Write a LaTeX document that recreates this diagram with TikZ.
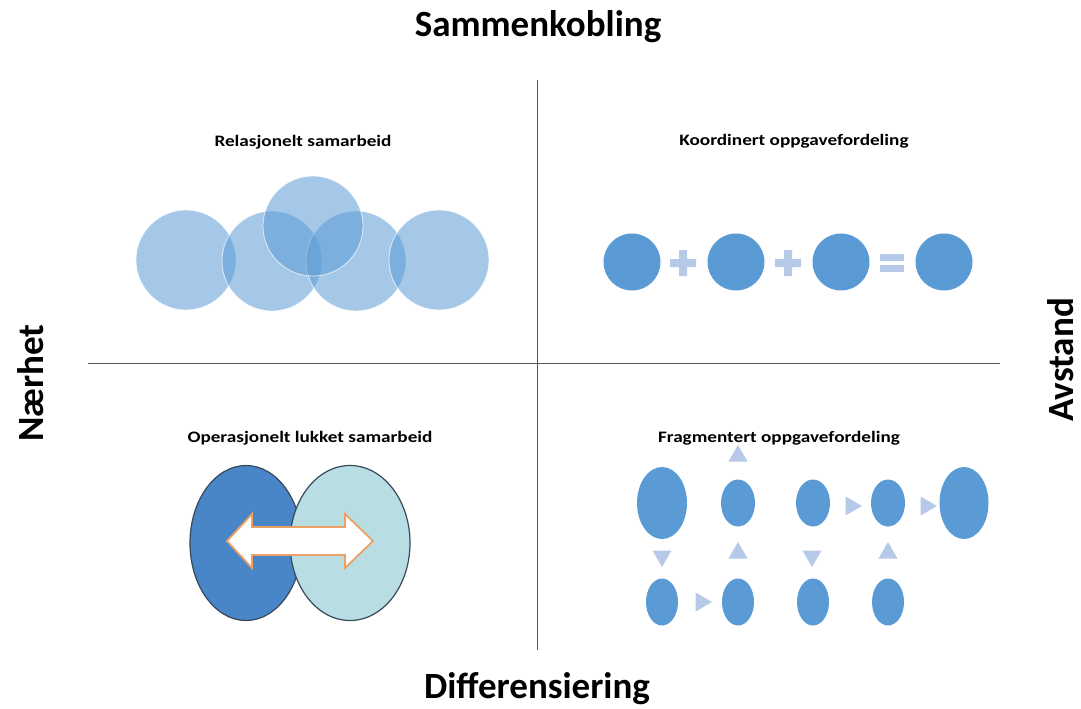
\documentclass[tikz,border=0pt]{standalone}
\usepackage{fontspec}
\setmainfont{Carlito}
\usetikzlibrary{shapes.geometric}

\definecolor{fillblue}{RGB}{91,155,213}
\definecolor{paleblue}{RGB}{182,201,232}
\definecolor{darkblue}{RGB}{72,134,200}
\definecolor{paleteal}{RGB}{184,222,228}
\definecolor{rimgray}{RGB}{55,72,88}
\definecolor{arroworange}{RGB}{238,160,100}
\definecolor{axisgray}{RGB}{85,85,85}

\begin{document}
\begin{tikzpicture}[x=1pt,y=-1pt,
  axislabel/.style={font=\fontsize{37}{40}\selectfont\bfseries,inner sep=0},
  quadlabel/.style={font=\fontsize{16}{18}\selectfont\bfseries,xscale=1.2},
  bubble/.style={circle,fill=fillblue,fill opacity=0.55,draw=white,draw opacity=0.7,line width=0.8,minimum size=100,inner sep=0},
  disc/.style={circle,fill=fillblue,minimum size=57,inner sep=0},
  piece/.style={ellipse,fill=fillblue,inner sep=0},
  tri/.style={regular polygon,regular polygon sides=3,fill=paleblue,minimum size=22,inner sep=0}]
  \useasboundingbox (0,0) rectangle (1081,709);

  % axes
  \draw[axisgray,line width=1] (537,80) -- (537,650);
  \draw[axisgray,line width=1] (88,363) -- (1000,363);
  \node[axislabel] (top) at (538,27) {Sammenkobling};
  \node[axislabel] (bottom) at (537,689) {Differensiering};
  \node[axislabel,rotate=90] (left) at (31,383) {Nærhet};
  \node[axislabel,rotate=90] (right) at (1061,360) {Avstand};

  % quadrant titles
  \node[quadlabel] (q1) at (303,142) {Relasjonelt samarbeid};
  \node[quadlabel] (q2) at (794,141) {Koordinert oppgavefordeling};
  \node[quadlabel] (q3) at (310,438) {Operasjonelt lukket samarbeid};
  \node[quadlabel] (q4) at (779,438) {Fragmentert oppgavefordeling};

  % relasjonelt samarbeid
  \node[bubble] (b1) at (186,260) {};
  \node[bubble] (b2) at (272,261) {};
  \node[bubble] (b4) at (356,261) {};
  \node[bubble] (b5) at (439,260) {};
  \node[bubble] (b3) at (313,226) {};

  % koordinert oppgavefordeling
  \node[disc] (d1) at (632,262) {};
  \node[disc] (d2) at (736,262) {};
  \node[disc] (d3) at (841,262) {};
  \node[disc] (d4) at (944,262) {};
  \fill[paleblue] (683,263) +(-13,-4) rectangle +(13,4) +(-4,-13) rectangle +(4,13);
  \fill[paleblue] (788,263) +(-13,-4) rectangle +(13,4) +(-4,-13) rectangle +(4,13);
  \fill[paleblue] (892,257) +(-12,-3.5) rectangle +(12,3.5);
  \fill[paleblue] (892,268) +(-12,-3.5) rectangle +(12,3.5);

  % operasjonelt lukket samarbeid
  \node[ellipse,fill=darkblue,draw=rimgray,line width=1.2,minimum width=112,minimum height=155,inner sep=0] (e1) at (246,543) {};
  \node[ellipse,fill=paleteal,draw=rimgray,line width=1.2,minimum width=120,minimum height=155,inner sep=0] (e2) at (350,543) {};
  \draw[arroworange,fill=white,line width=1.8,line join=miter]
    (227,541) -- (252,514) -- (252,527) -- (345,527) -- (345,514) -- (373,541)
    -- (345,568) -- (345,555) -- (252,555) -- (252,568) -- cycle;

  % fragmentert oppgavefordeling
  \node[piece,minimum width=50,minimum height=72] (f1) at (662,503) {};
  \node[piece,minimum width=34,minimum height=47] (f2) at (738,503) {};
  \node[piece,minimum width=34,minimum height=47] (f3) at (813,503) {};
  \node[piece,minimum width=34,minimum height=47] (f4) at (888,503) {};
  \node[piece,minimum width=49,minimum height=72] (f5) at (964,503) {};
  \node[piece,minimum width=32,minimum height=47] (g1) at (662,602) {};
  \node[piece,minimum width=32,minimum height=47] (g2) at (738,602) {};
  \node[piece,minimum width=32,minimum height=47] (g3) at (813,602) {};
  \node[piece,minimum width=32,minimum height=47] (g4) at (888,602) {};
  \node[tri] (t1) at (738,456) {};
  \node[tri,regular polygon rotate=-90] (t2) at (851,506) {};
  \node[tri,regular polygon rotate=-90] (t3) at (926,506) {};
  \node[tri,regular polygon rotate=180] (t4) at (662,556) {};
  \node[tri] (t5) at (738,553) {};
  \node[tri,regular polygon rotate=180] (t6) at (812,556) {};
  \node[tri] (t7) at (888,553) {};
  \node[tri,regular polygon rotate=-90] (t8) at (701,602) {};
\end{tikzpicture}
\end{document}
